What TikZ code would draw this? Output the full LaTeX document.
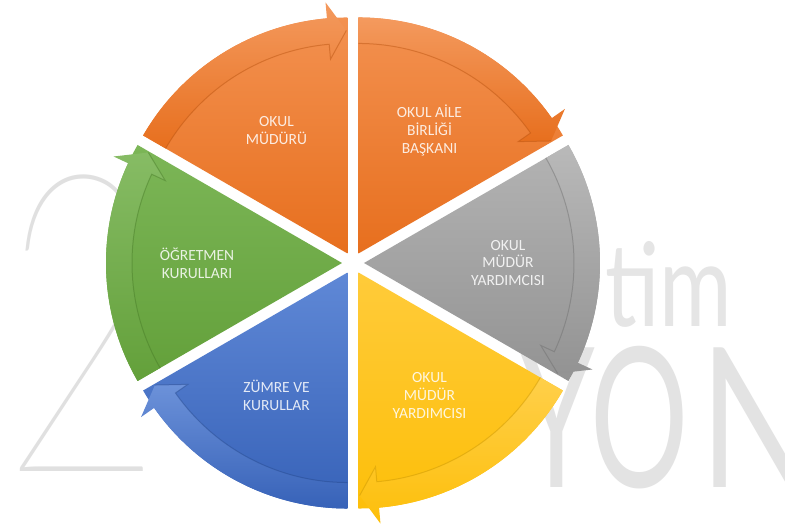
\documentclass[tikz,border=0pt]{standalone}
\usepackage{fontspec}
\setmainfont{Carlito}
\IfFontExistsTF{Lato Thin}{\newfontfamily\wmthin{Lato Thin}}{%
  \IfFontExistsTF{Lato Light}{\newfontfamily\wmthin{Lato Light}}{\newfontfamily\wmthin{Lato}}}
\newfontfamily\wmfont{Lato}
\definecolor{orT}{HTML}{F39150}\definecolor{orB}{HTML}{E76F1E}\definecolor{orD}{HTML}{B8520F}
\definecolor{grT}{HTML}{B3B3B3}\definecolor{grB}{HTML}{939393}\definecolor{grD}{HTML}{6E6E6E}
\definecolor{yeT}{HTML}{FFCB3A}\definecolor{yeB}{HTML}{FDBF0A}\definecolor{yeD}{HTML}{C99500}
\definecolor{blT}{HTML}{5F88D6}\definecolor{blB}{HTML}{3762B8}\definecolor{blD}{HTML}{24478C}
\definecolor{gnT}{HTML}{7CB657}\definecolor{gnB}{HTML}{63A03A}\definecolor{gnD}{HTML}{467A26}
\newcommand\cycseg[4]{%
  \begin{scope}[shift={({#1+30}:11)}]
    \path[top color=#2,bottom color=#3] (0,0) -- (#1:236)
      arc[start angle=#1,end angle={#1+60},radius=236] -- cycle;
    \path[top color=#2!92!white,bottom color=#3] ({#1+60}:236)
      arc[start angle={#1+60},end angle={#1+5},radius=236]
      -- ({#1+5}:252) -- ({#1+0.3}:223) -- ({#1+5}:195) -- ({#1+5}:210)
      arc[start angle={#1+5},end angle={#1+60},radius=210] -- cycle;
    \draw[#4,line width=1pt,opacity=.45] ({#1+60}:210)
      arc[start angle={#1+60},end angle={#1+5},radius=210]
      -- ({#1+5}:195) -- ({#1+0.3}:223);
  \end{scope}}
\tikzset{
  lbl/.style={align=center,text=white,text opacity=.85,inner sep=0pt,
    font=\fontsize{15.5}{17.7}\selectfont},
  wm/.style={text=black!11,inner sep=0pt}
}
\begin{document}
\begin{tikzpicture}[x=1pt,y=1pt]
\useasboundingbox[fill=white] (-353,-266) rectangle (432,263);
% watermark
\node[wm,text=black!12,font=\wmthin\fontsize{419}{419}\selectfont,xscale=0.67,anchor=base west] (w2) at (-352,-209) {2};
\node[wm,text=black!10,font=\wmfont\fontsize{116}{116}\selectfont,xscale=0.76,anchor=base west] (wtim) at (252,-64) {tim};
\node[wm,font=\wmfont\fontsize{195}{195}\selectfont,xscale=0.63,anchor=base west] (wyo) at (165,-225) {YO};
\node[wm,font=\wmfont\fontsize{195}{195}\selectfont,xscale=0.75,anchor=base west] (wn) at (347,-225) {N};
% segments
\cycseg{90}{orT}{orB}{orD}
\cycseg{30}{orT}{orB}{orD}
\cycseg{-30}{grT}{grB}{grD}
\cycseg{-90}{yeT}{yeB}{yeD}
\cycseg{210}{blT}{blB}{blD}
\cycseg{150}{gnT}{gnB}{gnD}
% labels
\node[lbl] (t1) at (120:153) {OKUL\\MÜDÜRÜ};
\node[lbl] (t2) at (60:153) {OKUL AİLE\\BİRLİĞİ\\BAŞKANI};
\node[lbl] (t3) at (0:155) {OKUL\\MÜDÜR\\YARDIMCISI};
\node[lbl] (t4) at (-60:153) {OKUL\\MÜDÜR\\YARDIMCISI};
\node[lbl] (t5) at (-120:153) {ZÜMRE VE\\KURULLAR};
\node[lbl] (t6) at (180:156) {ÖĞRETMEN\\KURULLARI};
\end{tikzpicture}
\end{document}
